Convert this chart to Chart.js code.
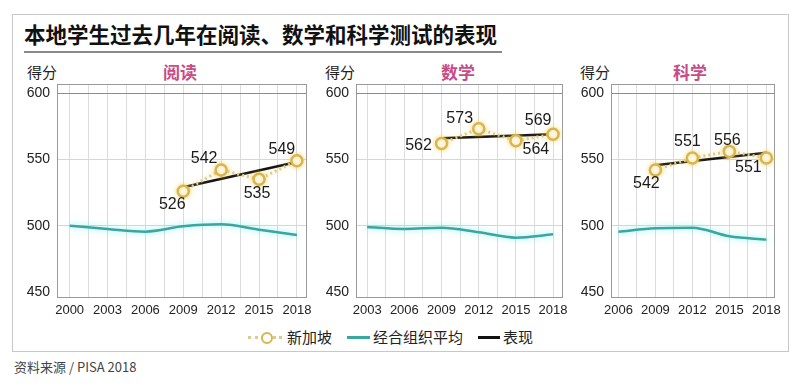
<!DOCTYPE html>
<html><head><meta charset="utf-8">
<script src="https://cdn.jsdelivr.net/npm/chart.js@4.4.1/dist/chart.umd.min.js"></script>
<style>
body{margin:0;background:#fff;width:800px;height:389px;overflow:hidden;position:relative;font-family:"Noto Sans CJK SC","Liberation Sans",sans-serif;color:#222;}
.abs{position:absolute;white-space:nowrap;}
#frame{position:absolute;left:12px;top:14px;width:777px;height:338px;border:1px solid #c8c8c8;box-sizing:border-box;}
#title{left:24px;top:20px;font-size:21.5px;font-weight:bold;line-height:28px;color:#111;}
#uline{position:absolute;left:24px;top:51px;width:478px;height:2px;background:#8a8a8a;}
.unit{font-size:15px;line-height:18px;top:63px;color:#222;}
.ptitle{font-size:17px;font-weight:bold;line-height:20px;top:62px;color:#c84c86;transform:translateX(-50%);}
canvas{position:absolute;}
.lg{font-size:15px;line-height:18px;top:328px;color:#222;}
.lline{position:absolute;height:3px;top:336px;}
#src{left:14px;top:358px;font-size:13px;line-height:18px;color:#444;}
</style></head>
<body>
<div id="frame"></div>
<div id="title" class="abs">本地学生过去几年在阅读、数学和科学测试的表现</div>
<div id="uline"></div>
<div class="abs unit" style="left:27px">得分</div>
<div class="abs unit" style="left:325px">得分</div>
<div class="abs unit" style="left:580px">得分</div>
<div class="abs ptitle" style="left:180px">阅读</div>
<div class="abs ptitle" style="left:458px">数学</div>
<div class="abs ptitle" style="left:690px">科学</div>
<canvas id="c1" width="305" height="246" style="left:17px;top:76px"></canvas>
<canvas id="c2" width="262" height="246" style="left:316px;top:76px"></canvas>
<canvas id="c3" width="219" height="246" style="left:571px;top:76px"></canvas>

<div class="lline" style="left:248px;width:34px;top:336px;height:0;border-top:3px dotted #dccb8e;"></div>
<div class="abs" style="left:261px;top:332px;width:8px;height:8px;border:2.5px solid #d9b54a;border-radius:50%;background:#fff;"></div>
<div class="abs lg" style="left:287px">新加坡</div>
<div class="lline" style="left:347px;width:23px;background:#3aa6a0;"></div>
<div class="abs lg" style="left:373px">经合组织平均</div>
<div class="lline" style="left:478px;width:22px;background:#111;"></div>
<div class="abs lg" style="left:503px">表现</div>
<div id="src" class="abs">资料来源 / PISA 2018</div>

<script>
const readYears=[2009,2012,2015,2018];
const readSG=[526,542,535,549];
const readOecdYears=[2000,2003,2006,2009,2012,2015,2018];
const readOecd=[500,497.5,495.5,499.5,501,497,493];
const readTrendYears=[2009,2018];
const readTrend=[529,548];

const mathYears=[2009,2012,2015,2018];
const mathSG=[562,573,564,569];
const mathOecdYears=[2003,2006,2009,2012,2015,2018];
const mathOecd=[499,497.5,498.5,495,491,493.5];
const mathTrendYears=[2009,2018];
const mathTrend=[566,569];

const sciYears=[2009,2012,2015,2018];
const sciSG=[542,551,556,551];
const sciOecdYears=[2006,2009,2012,2015,2018];
const sciOecd=[495.5,498,498.5,492,489.5];
const sciTrendYears=[2009,2018];
const sciTrend=[545.5,555];

const yTicks=[450,500,550,600];

// label placement relative to each point (dx, dy)
const labelOffsets={
  c1:[[-11,13],[-17,-11],[-2,14],[-15,-11]],
  c2:[[-23,2],[-19,-10],[20,9],[-15,-14]],
  c3:[[-9,14],[-5,-16],[-2,-11],[-18,10]]
};

Chart.defaults.font.family='"Liberation Sans", Arial, sans-serif';
Chart.defaults.color='#222';

const pts=(xs,ys)=>xs.map((x,i)=>({x:x,y:ys[i]}));

const framePlugin={
  id:'frameP',
  beforeDatasetsDraw(chart){
    const a=chart.chartArea, c=chart.ctx;
    c.save();c.strokeStyle='#9a9a9a';c.lineWidth=1;
    c.strokeRect(Math.round(a.left)+0.5,Math.round(a.top)+0.5,Math.round(a.right-a.left)-1,Math.round(a.bottom-a.top)-1);
    c.restore();
  }
};
const glowPlugin={
  id:'glowP',
  beforeDatasetDraw(chart,args){
    const c=chart.ctx;c.save();
    if(args.index===0){c.shadowColor='rgba(240,205,90,0.7)';c.shadowBlur=5;}
    else if(args.index===1){c.shadowColor='rgba(110,235,235,0.8)';c.shadowBlur=6;}
  },
  afterDatasetDraw(chart){chart.ctx.restore();}
};
const labelPlugin={
  id:'labelP',
  afterDatasetsDraw(chart){
    const offs=labelOffsets[chart.canvas.id];
    const meta=chart.getDatasetMeta(0), c=chart.ctx;
    const ds=chart.data.datasets[0].data;
    c.save();c.font='16px "Liberation Sans", Arial, sans-serif';c.fillStyle='#1a1a1a';
    c.textAlign='center';c.textBaseline='middle';
    meta.data.forEach((p,i)=>{c.fillText(String(ds[i].y),p.x+offs[i][0],p.y+offs[i][1]);});
    c.restore();
  }
};

function makeChart(id,sgX,sgY,oX,oY,tX,tY,xmin,xmax,firstYear,tension){
  const xt=[];for(let v=firstYear;v<=2018.001;v+=1.5)xt.push(v);
  new Chart(document.getElementById(id),{
    type:'line',
    data:{datasets:[
      {label:'新加坡',data:pts(sgX,sgY),borderColor:'#dccb8e',borderWidth:3,borderDash:[2,3],
       pointRadius:5.5,pointBorderWidth:2.5,pointBorderColor:'#d9b54a',pointBackgroundColor:'#fff',tension:0},
      {label:'经合组织平均',data:pts(oX,oY),borderColor:'#3aa6a0',borderWidth:2.5,pointRadius:0,
       tension:tension,cubicInterpolationMode:'monotone'},
      {label:'表现',data:pts(tX,tY),borderColor:'#111',borderWidth:2.5,pointRadius:0}
    ]},
    options:{
      responsive:false,animation:false,devicePixelRatio:1,
      layout:{padding:{top:4,right:15,bottom:0,left:0}},
      plugins:{legend:{display:false},tooltip:{enabled:false}},
      scales:{
        x:{type:'linear',min:xmin,max:xmax,
          afterBuildTicks(s){s.ticks=xt.map(v=>({value:v}));},
          afterFit(s){s.height=24;s.paddingLeft=0;s.paddingRight=0;s.paddingTop=0;s.paddingBottom=0;},
          border:{display:false},
          grid:{color:'#dcdcdc',lineWidth:1,drawTicks:false},
          ticks:{padding:5,font:{size:13},color:'#222',maxRotation:0,autoSkip:false,
            callback:(v)=>{const d=v-firstYear;return (Math.abs(d-Math.round(d))<1e-6 && Math.round(d)%3===0)?String(Math.round(v)):'';}}
        },
        y:{min:445.5,max:606.8,
          afterBuildTicks(s){s.ticks=yTicks.map(v=>({value:v}));},
          afterFit(s){s.width=40;s.paddingTop=0;s.paddingBottom=0;s.paddingLeft=0;s.paddingRight=0;},
          border:{display:false},
          grid:{drawTicks:false,lineWidth:1,color:(ctx)=>{const v=ctx.tick&&ctx.tick.value;return v===600?'#8c8c8c':(v===450?'rgba(0,0,0,0)':'#d6d6d6');}},
          ticks:{padding:7,font:{size:14},color:'#222'}
        }
      }
    },
    plugins:[framePlugin,glowPlugin,labelPlugin]
  });
}

makeChart('c1',readYears,readSG,readOecdYears,readOecd,readTrendYears,readTrend,1999,2018.8,2000,0.4);
makeChart('c2',mathYears,mathSG,mathOecdYears,mathOecd,mathTrendYears,mathTrend,2002.1,2018.8,2003,0.2);
makeChart('c3',sciYears,sciSG,sciOecdYears,sciOecd,sciTrendYears,sciTrend,2005.4,2018.7,2006,0.4);
</script>
</body></html>
